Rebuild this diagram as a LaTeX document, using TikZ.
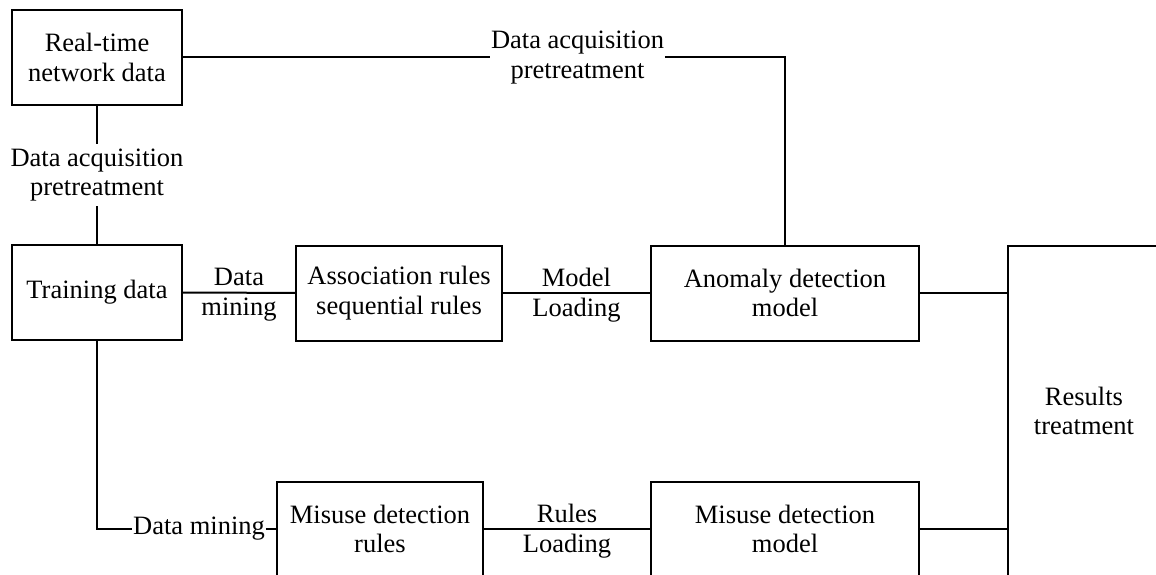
\documentclass[tikz,border=0pt]{standalone}
\usepackage{fontspec}
\setmainfont{Liberation Serif}

\begin{document}
\begin{tikzpicture}[x=1pt, y=-1pt, line width=2pt,
	every node/.style={font=\fontsize{26.5}{29.5}\selectfont},
	box/.style={draw, rectangle, minimum height=95pt, align=center, inner sep=0pt},
	lbl/.style={align=center, inner xsep=0pt, inner ysep=5pt}]
\useasboundingbox (0,0) rectangle (1156,575);
\clip (0,0) rectangle (1156,575);

\foreach \name/\x/\y/\w/\txt in {rt/97/57.5/170/Real-time\\network data, td/97/292.5/170/Training data, ar/399/293/206/Association rules\\sequential rules, ad/785/293/268/Anomaly detection\\model, mr/380/529/206/Misuse detection\\rules, md/785/529/268/Misuse detection\\model}
	{\node[box, minimum width=\w pt] (\name) at (\x,\y) {\txt};}

\node[box, minimum width=152pt, minimum height=330pt] (res) at (1084,411) {Results\\treatment};

\node[lbl, fill=white] (dap2) at (577.5,57.5) {Data acquisition\\pretreatment};
\node[lbl, fill=white] (dm2) at (199,529) {Data mining};

\draw (rt) -- node[lbl, fill=white] (dap1) {Data acquisition\\pretreatment} (td);
\draw (rt) -- (dap2) -| (ad);
\draw (td) -- node[lbl, yshift=-2pt] (dm1) {Data\\mining} (ar);
\draw (ar) -- node[lbl, yshift=-2pt] (ml) {Model\\Loading} (ad);
\draw (td) |- (dm2) -- (mr);
\draw (mr) -- node[lbl, yshift=-2pt] (rl) {Rules\\Loading} (md);
\draw (ad) -- (ad -| res.west);
\draw (md) -- (md -| res.west);

\end{tikzpicture}
\end{document}
